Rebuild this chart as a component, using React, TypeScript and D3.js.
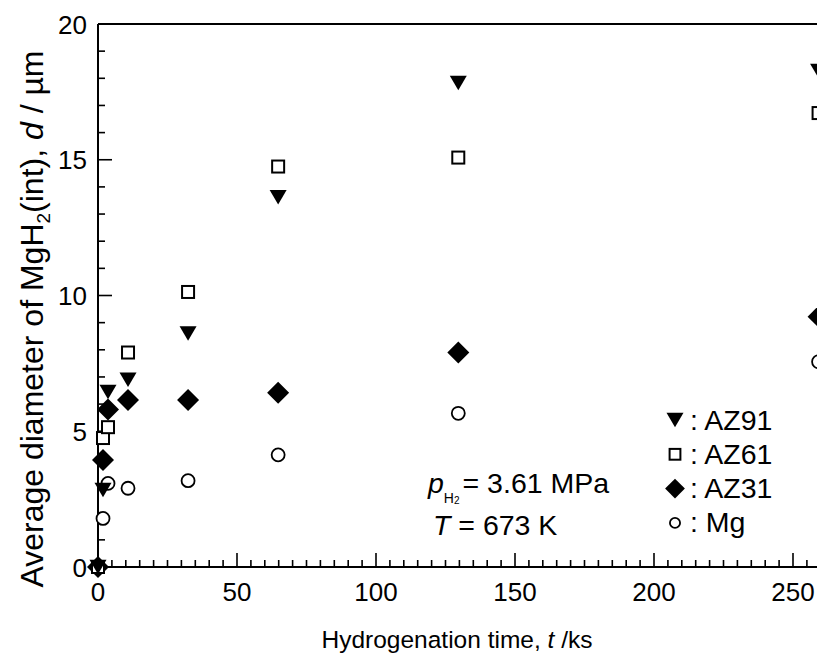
import React from "react";
import * as d3 from "d3";

const timesKs = [0, 1.8, 3.6, 10.8, 32.4, 64.8, 129.6, 259.2];
const az91 = [0, 2.84, 6.45, 6.9, 8.6, 13.62, 17.83, 18.27];
const az61 = [0, 4.75, 5.15, 7.9, 10.13, 14.75, 15.08, 16.72];
const az31 = [0, 3.94, 5.8, 6.15, 6.15, 6.42, 7.9, 9.22];
const mg = [0, 1.79, 3.08, 2.9, 3.18, 4.13, 5.66, 7.56];

const xMajorTicks = [0, 50, 100, 150, 200, 250, 300];
const yMajorTicks = [0, 5, 10, 15, 20];
const legendLabels = ["AZ91", "AZ61", "AZ31", "Mg"];

const FONT = "'Liberation Sans', Arial, Helvetica, sans-serif";

const W = 817;
const H = 660;
const x = d3.scaleLinear().domain([0, 300]).range([98, 98 + 300 * 2.78]);
const y = d3.scaleLinear().domain([0, 20]).range([567, 24]);

function Marker({ kind, cx, cy, s = 1 }: { kind: string; cx: number; cy: number; s?: number }) {
  if (kind === "tri") {
    const w = 17 * s, h = 14.5 * s;
    return <path d={`M${cx - w / 2},${cy - h / 2}L${cx + w / 2},${cy - h / 2}L${cx},${cy + h / 2}Z`} fill="#000" />;
  }
  if (kind === "sq") {
    const a = 12 * s;
    return <rect x={cx - a / 2} y={cy - a / 2} width={a} height={a} fill="#fff" stroke="#000" strokeWidth={2} />;
  }
  if (kind === "dia") {
    const r = 11 * s;
    return <path d={`M${cx},${cy - r}L${cx + r},${cy}L${cx},${cy + r}L${cx - r},${cy}Z`} fill="#000" />;
  }
  return <circle cx={cx} cy={cy} r={6.5 * s} fill="#fff" stroke="#000" strokeWidth={1.8} />;
}

export default function App() {
  const xMinor = x.ticks(60);
  const yMinor = y.ticks(20);
  const series = [
    { kind: "circ", vals: mg },
    { kind: "dia", vals: az31 },
    { kind: "sq", vals: az61 },
    { kind: "tri", vals: az91 },
  ];
  const legendKinds = ["tri", "sq", "dia", "circ"];
  const legendScale = [1, 0.9, 0.9, 0.78];
  return (
    <svg
      width={W}
      height={H}
      style={{ position: "absolute", left: 0, top: 0, background: "#fff" }}
      fontFamily={FONT}
    >
      <rect x={0} y={0} width={W} height={H} fill="#fff" />
      {/* axes frame */}
      <line x1={x(0)} x2={W + 5} y1={y(20)} y2={y(20)} stroke="#000" strokeWidth={2} />
      <line x1={x(0)} x2={W + 5} y1={y(0)} y2={y(0)} stroke="#000" strokeWidth={2} />
      <line x1={x(0)} x2={x(0)} y1={y(20)} y2={y(0)} stroke="#000" strokeWidth={2} />
      {/* x ticks */}
      {xMinor.map((t) => {
        const major = t % 50 === 0;
        return (
          <line key={"xt" + t} x1={x(t)} x2={x(t)} y1={y(0)} y2={y(0) - (major ? 14 : 7)} stroke="#000" strokeWidth={1.6} />
        );
      })}
      {/* y ticks */}
      {yMinor.map((t) => {
        const major = t % 5 === 0;
        return (
          <line key={"yt" + t} x1={x(0)} x2={x(0) + (major ? 14 : 7)} y1={y(t)} y2={y(t)} stroke="#000" strokeWidth={1.6} />
        );
      })}
      {xMajorTicks.map((t) => (
        <text key={"xl" + t} x={x(t)} y={601} fontSize={26} textAnchor="middle" fill="#000">
          {t}
        </text>
      ))}
      {yMajorTicks.map((t) => (
        <text key={"yl" + t} x={87} y={y(t) + 9.5} fontSize={26} textAnchor="end" fill="#000">
          {t}
        </text>
      ))}
      {/* axis titles */}
      <text x={457} y={648} fontSize={24.5} textAnchor="middle" fill="#000">
        Hydrogenation time, <tspan fontStyle="italic">t</tspan> /ks
      </text>
      <text transform="translate(43,319) rotate(-90)" fontSize={32} textAnchor="middle" fill="#000">
        Average diameter of MgH<tspan fontSize={19} dy={7}>2</tspan>
        <tspan dy={-7}>(int), </tspan>
        <tspan fontStyle="italic">d</tspan> / µm
      </text>
      {/* data */}
      {series.map((s) =>
        s.vals.map((v, i) => <Marker key={s.kind + i} kind={s.kind} cx={x(timesKs[i])} cy={y(v)} />)
      )}
      {/* legend */}
      {legendLabels.map((lab, i) => (
        <g key={lab}>
          <Marker kind={legendKinds[i]} cx={675} cy={420 + i * 34.3} s={legendScale[i]} />
          <text x={690} y={429.5 + i * 34.3} fontSize={28.5} fill="#000">
            : {lab}
          </text>
        </g>
      ))}
      {/* annotation */}
      <text x={428} y={493} fontSize={28.5} fill="#000">
        <tspan fontStyle="italic">p</tspan>
        <tspan fontSize={14} dy={10}>H</tspan>
        <tspan fontSize={10} dy={1}>2</tspan>
        <tspan dy={-11} dx={3}>= 3.61 MPa</tspan>
      </text>
      <text x={433} y={535} fontSize={28.5} fill="#000">
        <tspan fontStyle="italic">T</tspan> = 673 K
      </text>
    </svg>
  );
}
